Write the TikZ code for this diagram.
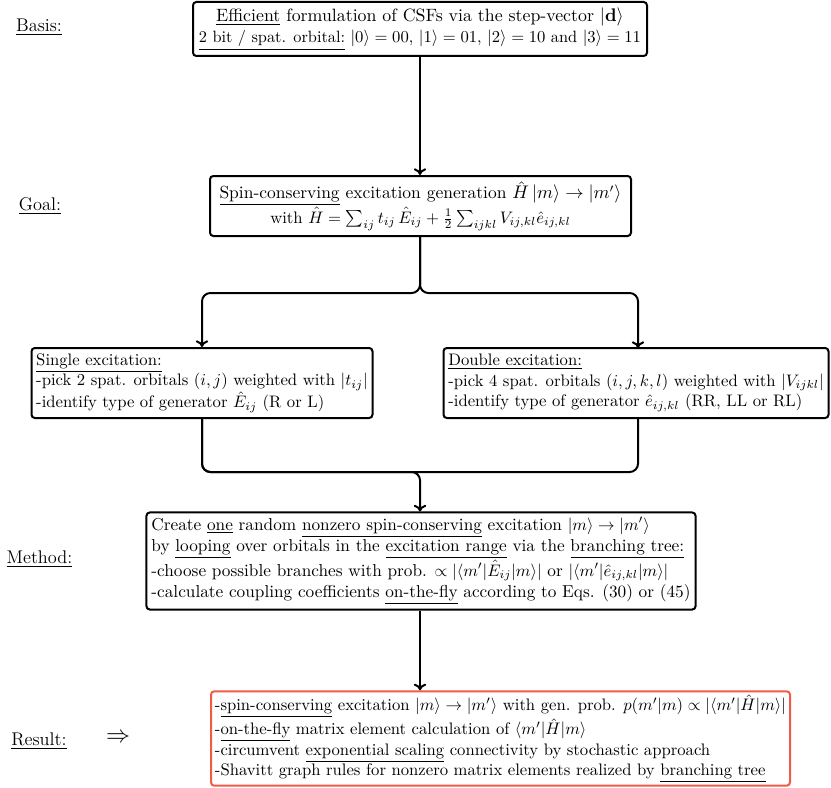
\documentclass[tikz,border=0pt]{standalone}
\usetikzlibrary{arrows.meta}
\definecolor{resred}{RGB}{240,92,70}
\begin{document}
\begin{tikzpicture}[x=0.6pt,y=-0.6pt,
  box/.style={draw=black, very thick, rounded corners=2pt, inner sep=2pt, font=\fontsize{10}{12.3}\selectfont},
  cbox/.style={box, align=center},
  lbox/.style={box, align=left},
  lab/.style={font=\fontsize{11}{13}\selectfont},
  arr/.style={very thick, -{To[length=4pt,width=7.5pt]}, rounded corners=5pt}]
\useasboundingbox (0,0) rectangle (831,787);

\node[cbox, minimum width=454*0.6pt, minimum height=54*0.6pt, font=\fontsize{10.7}{12.4}\selectfont] (basis) at (420,29)
 {\underline{Efficient} formulation of CSFs via the step-vector $|\mathbf{d}\rangle$\\
  {\fontsize{9.8}{12}\selectfont\underline{2 bit / spat. orbital:} $|0\rangle=00$, $|1\rangle=01$, $|2\rangle=10$ and $|3\rangle=11$}};

\node[cbox, minimum width=421*0.6pt, minimum height=60*0.6pt, font=\fontsize{10.5}{13.2}\selectfont] (goal) at (420.5,206)
 {\underline{Spin-conserving} excitation generation $\hat{H}\,|m\rangle\to|m'\rangle$\\
  {\fontsize{10}{12}\selectfont with $\hat{H}=\sum_{ij}t_{ij}\,\hat{E}_{ij}+\frac{1}{2}\sum_{ijkl}V_{ij,kl}\hat{e}_{ij,kl}$}};

\node[lbox, minimum width=341*0.6pt, minimum height=70*0.6pt] (single) at (202,383)
 {\underline{Single excitation:}\\
  -pick 2 spat. orbitals $(i,j)$ weighted with $|t_{ij}|$\\
  -identify type of generator $\hat{E}_{ij}$ (R or L)};

\node[lbox, minimum width=385*0.6pt, minimum height=70*0.6pt] (double) at (636,383)
 {\underline{Double excitation:}\\
  -pick 4 spat. orbitals $(i,j,k,l)$ weighted with $|V_{ijkl}|$\\
  -identify type of generator $\hat{e}_{ij,kl}$ (RR, LL or RL)};

\node[lbox, inner sep=3pt, minimum width=548*0.6pt, minimum height=96*0.6pt, font=\fontsize{10.35}{13}\selectfont] (method) at (421,561)
 {Create \underline{one} random \underline{nonzero spin-conserving} excitation $|m\rangle\to|m'\rangle$\\
  by \underline{looping} over orbitals in the \underline{excitation range} via the \underline{branching tree:}\\
  -choose possible branches with prob. $\propto|\langle m'|\hat{E}_{ij}|m\rangle|$ or $|\langle m'|\hat{e}_{ij,kl}|m\rangle|$\\
  -calculate coupling coefficients \underline{on-the-fly} according to Eqs. (30) or (45)};

\node[lbox, draw=resred, minimum width=579*0.6pt, minimum height=93*0.6pt] (result) at (500.5,738.5)
 {-\underline{spin-conserving} excitation $|m\rangle\to|m'\rangle$ with gen. prob. $p(m'|m)\propto|\langle m'|\hat{H}|m\rangle|$\\
  -\underline{on-the-fly} matrix element calculation of $\langle m'|\hat{H}|m\rangle$\\
  -circumvent \underline{exponential scaling} connectivity by stochastic approach\\
  -Shavitt graph rules for nonzero matrix elements realized by \underline{branching tree}};

\node[lab] (lbasis) at (39,27) {\underline{Basis:}};
\node[lab] (lgoal) at (40,206) {\underline{Goal:}};
\node[lab] (lmethod) at (39.5,559) {\underline{Method:}};
\node[lab] (lresult) at (39,741) {\underline{Result:}};
\node[lab, font=\fontsize{15}{17}\selectfont] (impl) at (118,738) {$\Rightarrow$};

\coordinate (j1) at (420,293);
\coordinate (j2) at (420,472);
\coordinate (dtop) at (638,348);
\coordinate (dbot) at (638,418);

\draw[arr] (basis.south) -- (goal.north -| basis.south);
\draw[arr] (goal.south -| j1) -- (j1) -| (single.north);
\draw[arr] (goal.south -| j1) -- (j1) -| (dtop);
\draw[very thick, rounded corners=5pt] (single.south) |- (j2);
\draw[very thick, rounded corners=5pt] (dbot) |- (j2);
\draw[arr] (single.south) |- (j2) -- (j2 |- method.north);
\draw[arr] (method.south -| j2) -- (j2 |- result.north);
\end{tikzpicture}
\end{document}
